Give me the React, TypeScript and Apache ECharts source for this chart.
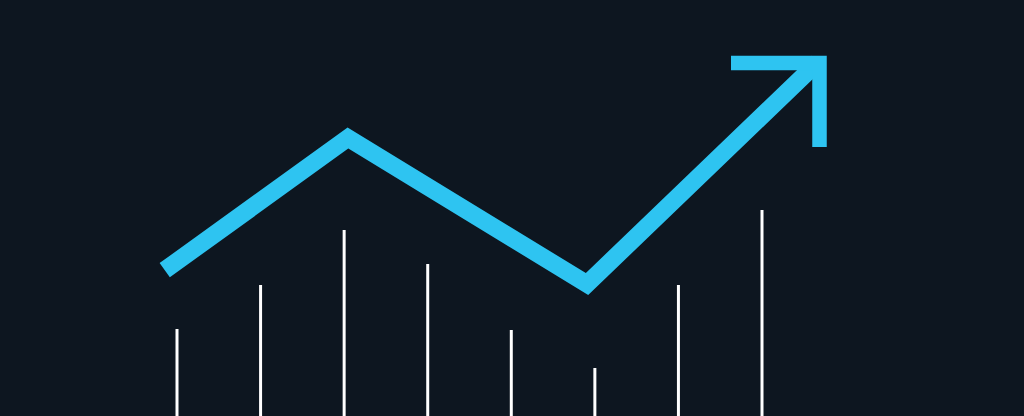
import React, { useEffect, useRef } from "react";
import * as echarts from "echarts";

// Bar positions (period index) and heights (value units)
const barPeriods = [0, 1, 2, 3, 4, 5, 6, 7];
const barValues = [2.175, 3.275, 4.65, 3.8, 2.15, 1.2, 3.275, 5.15];

// Trend line (x = period index, y = value)
const trendX = [-0.147, 2.046, 4.906, 7.67];
const trendY = [3.645, 6.95, 3.3, 8.85];

// Arrow head
const arrowX = [6.629, 7.688, 7.688];
const arrowY = [8.825, 8.825, 6.725];

// Visible axis extents
const xMin = -2.118;
const xMax = 10.135;
const yMin = 0;
const yMax = 10.4;

const BG = "#0d1620";
const CYAN = "#2ec4f1";

export default function App() {
  const ref = useRef<HTMLDivElement>(null);
  useEffect(() => {
    if (!ref.current) return;
    const chart = echarts.init(ref.current, undefined, { renderer: "svg" });
    chart.setOption({
      animation: false,
      backgroundColor: BG,
      grid: { left: 0, right: 0, top: 0, bottom: 0, containLabel: false },
      xAxis: { type: "value", min: xMin, max: xMax, show: false },
      yAxis: { type: "value", min: yMin, max: yMax, show: false },
      series: [
        {
          type: "bar",
          data: barPeriods.map((p, i) => [p, barValues[i]]),
          barWidth: 3,
          itemStyle: { color: "#ffffff" },
          silent: true,
        },
        {
          type: "line",
          data: trendX.map((x, i) => [x, trendY[i]]),
          showSymbol: false,
          symbol: "none",
          clip: false,
          lineStyle: { color: CYAN, width: 17.5, cap: "butt", join: "miter" },
          silent: true,
        },
        {
          type: "line",
          data: arrowX.map((x, i) => [x, arrowY[i]]),
          showSymbol: false,
          symbol: "none",
          clip: false,
          lineStyle: { color: CYAN, width: 14.5, cap: "butt", join: "miter" },
          silent: true,
        },
      ],
    });
    return () => chart.dispose();
  }, []);
  return (
    <div
      ref={ref}
      style={{ position: "fixed", left: 0, top: 0, width: 1024, height: 416, background: BG }}
    />
  );
}
